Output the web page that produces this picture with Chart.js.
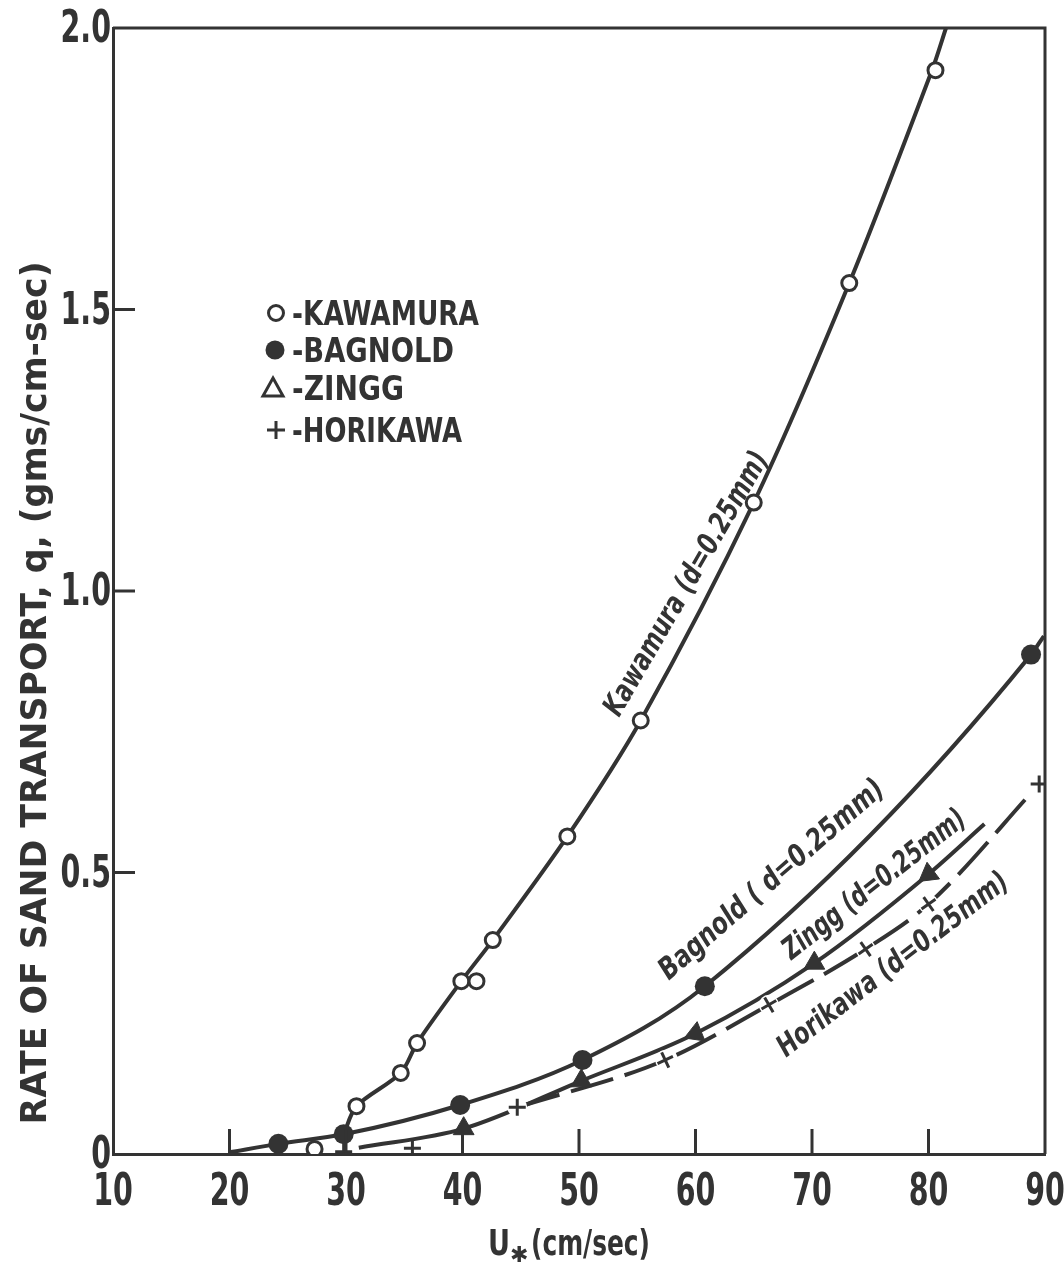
<!DOCTYPE html>
<html>
<head>
<meta charset="utf-8">
<script src="https://cdn.jsdelivr.net/npm/chart.js@4.4.1/dist/chart.umd.min.js"></script>
<style>
  html, body { margin: 0; padding: 0; background: #ffffff; }
  canvas { display: block; }
</style>
</head>
<body>
<canvas id="chart" width="1064" height="1263"></canvas>
<script>
// Rate of sand transport q (gms/cm-sec) against shear velocity U* (cm/sec), d = 0.25 mm

// Kawamura: plotted points and the drawn curve
const kawamuraU = [27.3, 30.9, 34.7, 36.1, 39.9, 41.2, 42.6, 49.0, 55.3, 65.0, 73.2, 80.6];
const kawamuraQ = [0.009, 0.085, 0.144, 0.197, 0.307, 0.307, 0.380, 0.564, 0.770, 1.157, 1.547, 1.925];
const kawamuraCurveU = [29.8, 30.9, 34.7, 36.1, 39.9, 42.6, 49.0, 55.3, 65.0, 73.2, 80.3, 81.5];
const kawamuraCurveQ = [0.035, 0.085, 0.144, 0.197, 0.307, 0.380, 0.564, 0.770, 1.157, 1.547, 1.925, 2.0];

// Bagnold
const bagnoldU = [24.2, 29.8, 39.8, 50.3, 60.8, 88.8];
const bagnoldQ = [0.018, 0.035, 0.087, 0.167, 0.298, 0.887];
const bagnoldCurveU = [20.0, 24.2, 29.8, 39.8, 50.3, 60.8, 88.8, 89.9];
const bagnoldCurveQ = [0.003, 0.018, 0.035, 0.087, 0.167, 0.298, 0.887, 0.920];

// Zingg
const zinggU = [40.1, 50.2, 60.0, 70.2, 80.0];
const zinggQ = [0.045, 0.130, 0.214, 0.339, 0.497];
const zinggCurveU = [31.1, 40.1, 50.2, 60.0, 70.2, 80.0, 84.8];
const zinggCurveQ = [0.011, 0.045, 0.130, 0.214, 0.339, 0.497, 0.586];

// Horikawa
const horikawaU = [29.8, 35.7, 44.7, 57.4, 66.3, 74.6, 80.0, 89.5];
const horikawaQ = [0.004, 0.010, 0.083, 0.167, 0.265, 0.364, 0.444, 0.657];
const horikawaCurveU = [44.7, 57.4, 66.3, 74.6, 80.0, 89.5];
const horikawaCurveQ = [0.083, 0.167, 0.265, 0.364, 0.444, 0.657];

// Axis ticks
const xTickValues = [10, 20, 30, 40, 50, 60, 70, 80, 90];
const xTickLabels = ['10', '20', '30', '40', '50', '60', '70', '80', '90'];
const yTickValues = [0, 0.5, 1.0, 1.5, 2.0];
const yTickLabels = ['0', '0.5', '1.0', '1.5', '2.0'];

// Legend entries
const legendNames = ['KAWAMURA', 'BAGNOLD', 'ZINGG', 'HORIKAWA'];

// Curve captions (anchor in data units, angle and length in pixels)
const curveCaptions = [
  { text: 'Kawamura (d=0.25mm)', u: 59.3, q: 1.012, angle: -60, len: 300 },
  { text: 'Bagnold ( d=0.25mm)', u: 66.6, q: 0.486, angle: -41, len: 288 },
  { text: 'Zingg (d=0.25mm)', u: 75.4, q: 0.477, angle: -38, len: 224 },
  { text: 'Horikawa (d=0.25mm)', u: 77.0, q: 0.335, angle: -37.5, len: 283 }
];

const INK = '#333333';
const FACE = "'DejaVu Sans Condensed', 'DejaVu Sans', sans-serif";
const SQUEEZE = 0.72;

const pts = (u, q) => u.map((x, i) => ({ x: x, y: q[i] }));

function curve(u, q, extra) {
  return Object.assign({
    data: pts(u, q),
    showLine: true,
    borderColor: INK,
    borderWidth: 4,
    pointRadius: 0,
    cubicInterpolationMode: 'monotone',
    fill: false,
    order: 10
  }, extra || {});
}

// text squeezed or stretched horizontally to a given width
function fitText(ctx, text, x, y, width, font) {
  ctx.font = font;
  const w = ctx.measureText(text).width;
  ctx.save();
  ctx.translate(x, y);
  ctx.scale(width / w, 1);
  ctx.fillText(text, 0, 0);
  ctx.restore();
}

// text with a fixed horizontal squeeze
function squeezeText(ctx, text, x, y, sx, font) {
  ctx.font = font;
  ctx.save();
  ctx.translate(x, y);
  ctx.scale(sx, 1);
  ctx.fillText(text, 0, 0);
  ctx.restore();
}

const decorations = {
  id: 'decorations',
  afterDatasetsDraw(chart) {
    const { ctx, chartArea: a, scales } = chart;
    const xs = scales.x, ys = scales.y;
    ctx.save();
    ctx.strokeStyle = INK;
    ctx.fillStyle = INK;
    ctx.lineCap = 'butt';

    // frame on top and right
    ctx.lineWidth = 3;
    ctx.beginPath();
    ctx.moveTo(a.left, a.top);
    ctx.lineTo(a.right, a.top);
    ctx.lineTo(a.right, a.bottom);
    ctx.stroke();

    // inward tick marks
    xs.ticks.forEach(t => {
      if (t.value === xs.min || t.value === xs.max) return;
      const px = xs.getPixelForValue(t.value);
      ctx.beginPath();
      ctx.moveTo(px, a.bottom);
      ctx.lineTo(px, a.bottom - 25);
      ctx.stroke();
    });
    ys.ticks.forEach(t => {
      if (t.value === ys.min || t.value === ys.max) return;
      const py = ys.getPixelForValue(t.value);
      ctx.beginPath();
      ctx.moveTo(a.left, py);
      ctx.lineTo(a.left + 22, py);
      ctx.stroke();
    });

    // tick labels
    const tickFont = 'bold 44px ' + FACE;
    ctx.textBaseline = 'alphabetic';
    ctx.textAlign = 'center';
    xs.ticks.forEach(t => {
      const label = xTickLabels[xTickValues.indexOf(t.value)];
      squeezeText(ctx, label, xs.getPixelForValue(t.value), a.bottom + 51, SQUEEZE, tickFont);
    });
    ctx.textAlign = 'right';
    ys.ticks.forEach(t => {
      const label = yTickLabels[yTickValues.indexOf(t.value)];
      squeezeText(ctx, label, a.left - 2, ys.getPixelForValue(t.value) + 14, SQUEEZE, tickFont);
    });

    // legend
    const lx = a.left + 163, rows = [313, 350, 388, 430];
    const widths = [187, 162, 112, 170];
    ctx.lineWidth = 3;
    ctx.beginPath(); ctx.arc(lx, rows[0], 7.5, 0, Math.PI * 2); ctx.stroke();
    ctx.beginPath(); ctx.arc(lx - 1, rows[1], 9.5, 0, Math.PI * 2); ctx.fill();
    ctx.beginPath();
    ctx.moveTo(lx - 3, rows[2] - 10);
    ctx.lineTo(lx + 7, rows[2] + 8);
    ctx.lineTo(lx - 13, rows[2] + 8);
    ctx.closePath(); ctx.stroke();
    ctx.beginPath();
    ctx.moveTo(lx - 9, rows[3]); ctx.lineTo(lx + 9, rows[3]);
    ctx.moveTo(lx, rows[3] - 9); ctx.lineTo(lx, rows[3] + 9);
    ctx.stroke();
    ctx.textAlign = 'left';
    legendNames.forEach((name, i) => {
      fitText(ctx, '-' + name, lx + 16, rows[i] + 12, widths[i], 'bold 33px ' + FACE);
    });

    // captions along the curves
    ctx.textAlign = 'center';
    ctx.textBaseline = 'middle';
    curveCaptions.forEach(c => {
      const px = xs.getPixelForValue(c.u), py = ys.getPixelForValue(c.q);
      ctx.save();
      ctx.translate(px, py);
      ctx.rotate(c.angle * Math.PI / 180);
      fitText(ctx, c.text, 0, 0, c.len, 'italic bold 30px ' + FACE);
      ctx.restore();
    });

    // y axis title
    ctx.textBaseline = 'alphabetic';
    ctx.save();
    ctx.translate(46, 693);
    ctx.rotate(-Math.PI / 2);
    fitText(ctx, 'RATE OF SAND TRANSPORT, q, (gms/cm-sec)', 0, 0, 863, 'bold 36px ' + FACE);
    ctx.restore();

    // x axis title: U with a subscript star
    ctx.textAlign = 'left';
    fitText(ctx, 'U', 488, 1255, 22, 'bold 36px ' + FACE);
    ctx.font = '22px "DejaVu Sans", sans-serif';
    ctx.fillText('\u2731', 510, 1262);
    fitText(ctx, '(cm/sec)', 531, 1255, 119, 'bold 36px ' + FACE);

    ctx.restore();
  }
};

const gapRadius = horikawaU.map((u, i) => (i >= 2 ? 10 : 0));

new Chart(document.getElementById('chart'), {
  type: 'scatter',
  data: {
    datasets: [
      // plotted symbols
      {
        data: pts(kawamuraU, kawamuraQ),
        pointStyle: 'circle', pointRadius: 7.5, pointBorderWidth: 3,
        pointBackgroundColor: '#ffffff', pointBorderColor: INK, order: 1
      },
      {
        data: pts(bagnoldU, bagnoldQ),
        pointStyle: 'circle', pointRadius: 10, pointBorderWidth: 0,
        pointBackgroundColor: INK, pointBorderColor: INK, order: 1
      },
      {
        data: pts(zinggU, zinggQ),
        pointStyle: 'triangle', pointRadius: 12, pointBorderWidth: 1,
        pointRotation: [0, 0, 248, 240, 233],
        pointBackgroundColor: INK, pointBorderColor: INK, order: 1
      },
      {
        data: pts(horikawaU, horikawaQ),
        pointStyle: 'cross', pointRadius: 8.5, pointBorderWidth: 3,
        pointRotation: [0, 0, 0, -25, -30, -35, -35, 0],
        pointBackgroundColor: INK, pointBorderColor: INK, order: 1
      },
      // white gaps in the dashed Horikawa line around its symbols
      {
        data: pts(horikawaU, horikawaQ),
        pointStyle: 'circle', pointRadius: gapRadius, pointBorderWidth: 0,
        pointBackgroundColor: '#ffffff', pointBorderColor: '#ffffff', order: 5
      },
      // drawn curves
      curve(kawamuraCurveU, kawamuraCurveQ, { cubicInterpolationMode: 'default', tension: 0.3 }),
      curve(bagnoldCurveU, bagnoldCurveQ),
      curve(zinggCurveU, zinggCurveQ),
      curve(horikawaCurveU, horikawaCurveQ, { borderDash: [44, 12] })
    ]
  },
  options: {
    responsive: false,
    animation: false,
    events: [],
    layout: { padding: { top: 28, right: 19, left: 0, bottom: 0 } },
    plugins: { legend: { display: false }, tooltip: { enabled: false } },
    scales: {
      x: {
        type: 'linear', min: 10, max: 90,
        afterBuildTicks: s => { s.ticks = xTickValues.map(v => ({ value: v })); },
        afterFit: s => { s.height = 109; s.paddingLeft = 0; s.paddingRight = 0; },
        grid: { display: false, drawTicks: false },
        border: { display: true, width: 3, color: INK },
        ticks: { display: false }
      },
      y: {
        type: 'linear', min: 0, max: 2,
        afterBuildTicks: s => { s.ticks = yTickValues.map(v => ({ value: v })); },
        afterFit: s => { s.width = 113; s.paddingTop = 0; s.paddingBottom = 0; },
        grid: { display: false, drawTicks: false },
        border: { display: true, width: 3, color: INK },
        ticks: { display: false }
      }
    }
  },
  plugins: [decorations]
});
</script>
</body>
</html>
